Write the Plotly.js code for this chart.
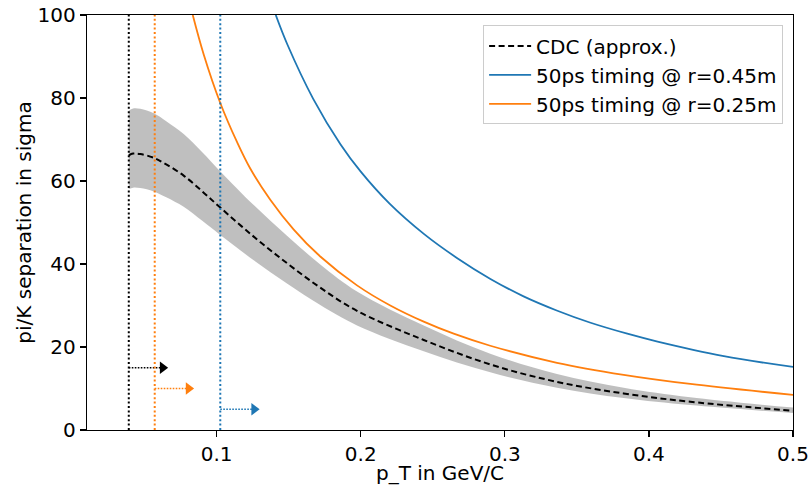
<!DOCTYPE html>
<html>
<head>
<meta charset="utf-8">
<script src="https://cdn.plot.ly/plotly-3.0.1.min.js"></script>
<style>html,body{margin:0;padding:0;background:#fff;}#chart{width:811px;height:485px;}</style>
</head>
<body>
<div id="chart"></div>
<script>
// CDC (approx.) central curve and its band
const cdcX    = [0.039,0.042,0.047,0.0563,0.065,0.0771,0.09,0.1025,0.1257,0.1488,0.1719,0.1974,0.2437,0.2899,0.3362,0.3825,0.4287,0.5];
const cdcY    = [66.2,66.6,66.5,65.6,64.0,61.3,57.5,53.6,46.6,40.2,34.3,28.7,21.7,15.8,11.6,8.8,6.8,4.65];
const bandUpY = [77.0,77.5,77.4,76.3,74.4,71.3,66.9,62.3,54.2,46.8,39.9,33.4,25.2,18.4,13.5,10.2,7.9,5.4];
const bandLoY = [58.1,58.4,58.3,57.5,56.1,53.8,50.4,47.0,40.9,35.3,30.1,25.2,19.0,13.9,10.2,7.7,6.0,4.1];
// 50ps timing @ r=0.45m
const blueX = [0.141,0.149,0.167,0.186,0.200,0.220,0.244,0.267,0.290,0.313,0.336,0.359,0.385,0.406,0.452,0.500];
const blueY = [100,92.95,79.8,68.8,62.25,54.55,47.2,41.4,36.4,32.2,28.8,25.9,23.2,21.3,17.8,15.2];
// 50ps timing @ r=0.25m
const orangeX = [0.0834,0.091,0.1025,0.1141,0.1233,0.1372,0.1535,0.1719,0.1974,0.2205,0.2437,0.2645,0.2899,0.3362,0.3825,0.4287,0.5];
const orangeY = [100,90.5,78.8,69.4,63.0,55.5,48.3,41.8,34.85,30.0,26.1,23.2,20.3,16.2,13.3,11.1,8.45];
// pT cut-off lines and arrows
const cutX = [0.039, 0.057, 0.1025];
const cutColors = ['#000000', '#ff7f0e', '#1f77b4'];
const arrowY = [15, 10, 5];
const arrowLen = 0.0235;

const names = ['CDC (approx.)', '50ps timing @ r=0.45m', '50ps timing @ r=0.25m'];
const FONT = 'DejaVu Sans, sans-serif';
const FS = 20;

const traces = [];
traces.push({x: cdcX, y: bandLoY, mode: 'lines', line: {width: 0, shape: 'spline', color: 'rgba(0,0,0,0)'}, showlegend: false, hoverinfo: 'skip'});
traces.push({x: cdcX, y: bandUpY, mode: 'lines', fill: 'tonexty', fillcolor: 'rgba(128,128,128,0.5)', line: {width: 0, shape: 'spline', color: 'rgba(0,0,0,0)'}, showlegend: false, hoverinfo: 'skip'});
traces.push({x: cdcX, y: cdcY, mode: 'lines', name: names[0], line: {color: '#000000', width: 2, dash: '6px,3.5px', shape: 'spline'}});
traces.push({x: blueX, y: blueY, mode: 'lines', name: names[1], line: {color: '#1f77b4', width: 1.8, shape: 'spline'}});
traces.push({x: orangeX, y: orangeY, mode: 'lines', name: names[2], line: {color: '#ff7f0e', width: 1.8, shape: 'spline'}});

cutX.forEach((cx, i) => {
  traces.push({x: [cx, cx], y: [0, 100], mode: 'lines', line: {color: cutColors[i], width: 2, dash: '2px,2.4px'}, showlegend: false, hoverinfo: 'skip'});
  traces.push({x: [cx, cx + arrowLen], y: [arrowY[i], arrowY[i]], mode: 'lines', line: {color: cutColors[i], width: 1.4, dash: '1.6px,1.4px'}, showlegend: false, hoverinfo: 'skip'});
  traces.push({x: [cx + arrowLen], y: [arrowY[i]], mode: 'markers', marker: {symbol: 'triangle-right', size: 11, color: cutColors[i]}, showlegend: false, hoverinfo: 'skip'});
});

const axisCommon = {
  showgrid: false, zeroline: false, showline: true, linecolor: '#000', linewidth: 1.2, mirror: true,
  ticks: 'outside', ticklen: 6, tickwidth: 1.2, tickcolor: '#000',
  tickfont: {family: FONT, size: FS, color: '#000'}
};

const layout = {
  width: 811, height: 485,
  margin: {l: 87, r: 18, t: 14.5, b: 55},
  paper_bgcolor: '#fff', plot_bgcolor: '#fff',
  font: {family: FONT, size: FS, color: '#000'},
  xaxis: Object.assign({}, axisCommon, {
    range: [0.01, 0.5], tickvals: [0.1, 0.2, 0.3, 0.4, 0.5], ticktext: ['0.1', '0.2', '0.3', '0.4', '0.5'],
    title: {text: 'p_T in GeV/C', font: {family: FONT, size: FS, color: '#000'}, standoff: 6}
  }),
  yaxis: Object.assign({}, axisCommon, {
    range: [0, 100], tickvals: [0, 20, 40, 60, 80, 100],
    title: {text: 'pi/K separation in sigma', font: {family: FONT, size: FS, color: '#000'}, standoff: 0}
  }),
  legend: {
    x: 0.986, y: 0.975, xanchor: 'right', yanchor: 'top', traceorder: 'normal',
    bgcolor: 'rgba(255,255,255,0.8)', bordercolor: '#cccccc', borderwidth: 1,
    font: {family: FONT, size: FS, color: '#000'}, tracegroupgap: 0, itemwidth: 42
  },
  showlegend: true
};

Plotly.newPlot('chart', traces, layout, {displayModeBar: false, staticPlot: true});
</script>
</body>
</html>
